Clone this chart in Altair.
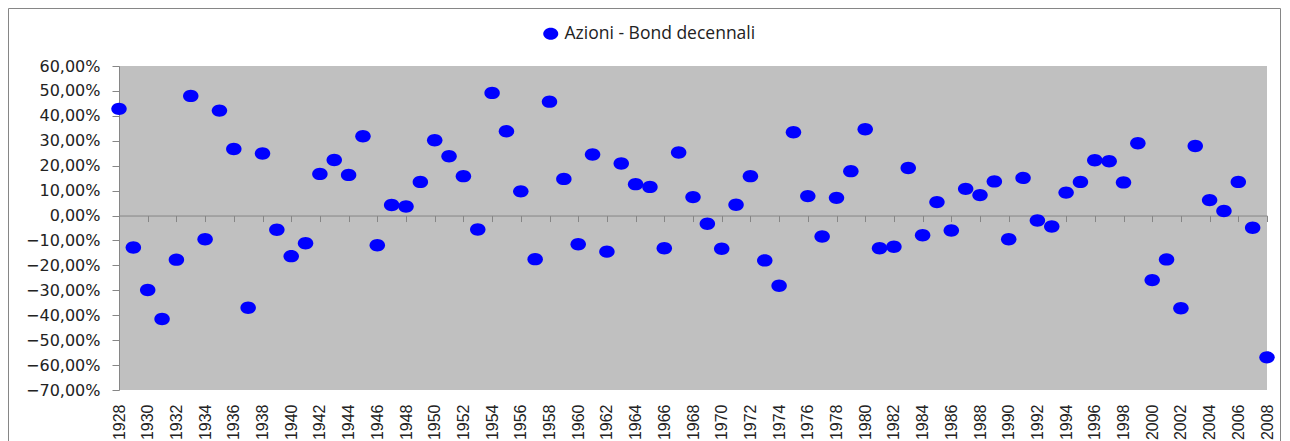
import altair as alt
import pandas as pd

years = list(range(1928, 2009))
values = [
    42.8, -12.8, -29.9, -41.5, -17.7, 48.0, -9.5, 42.1, 26.7, -37.0,
    24.9, -5.7, -16.3, -11.1, 16.7, 22.3, 16.3, 31.8, -11.9, 4.2,
    3.6, 13.5,
    30.2, 23.8, 15.8, -5.6, 49.2, 33.8, 9.7, -17.5, 45.7, 14.7,
    -11.5, 24.5, -14.5, 20.9, 12.6, 11.5, -13.1, 25.3, 7.4, -3.3,
    -13.3, 4.3, 15.8, -18.0, -28.2, 33.4, 7.8, -8.4, 7.1, 17.8,
    34.6, -13.1, -12.5, 19.1, -7.9, 5.4, -6.0, 10.7, 8.2, 13.7,
    -9.5, 15.1, -2.0, -4.4, 9.2, 13.5, 22.2, 21.8, 13.3, 29.0,
    -25.9, -17.6, -37.2, 27.9, 6.2, 1.8, 13.5, -4.9, -56.9,
]
series_name = "Azioni - Bond decennali"
x_ticks = list(range(1928, 2009, 2))
y_ticks = list(range(-70, 61, 10))

df = pd.DataFrame({"year": years, "value": values, "series": series_name})

W, H = 1148, 324
ELLIPSE = ("M -1 0 C -1 -0.4418 -0.5523 -0.8 0 -0.8 C 0.5523 -0.8 1 -0.4418 1 0 "
           "C 1 0.4418 0.5523 0.8 0 0.8 C -0.5523 0.8 -1 0.4418 -1 0 Z")
GRAY = "#868686"

xscale = alt.Scale(domain=[1928, 2008], nice=False, zero=False)
yscale = alt.Scale(domain=[-70, 60], nice=False, zero=False)

y_axis = alt.Axis(
    values=y_ticks, grid=False, title=None,
    labelExpr="replace(format(datum.value, '.2f'), '.', ',') + '%'",
    domainColor=GRAY, tickColor=GRAY, tickSize=7, labelPadding=12,
    labelFont="DejaVu Sans", labelFontSize=16, labelColor="#222222",
    labelFlush=False, labelOverlap=False,
)

frame = alt.Chart(pd.DataFrame({"f": [0]})).mark_rect(
    fillOpacity=0, stroke=GRAY, strokeWidth=1
).encode(
    x=alt.value(-110.5), x2=alt.value(W + 13.5),
    y=alt.value(-57.5), y2=alt.value(H + 80),
)

points = alt.Chart(df).mark_point(
    shape=ELLIPSE, filled=True, size=240, opacity=1
).encode(
    x=alt.X("year:Q", scale=xscale, axis=alt.Axis(
        orient="bottom", values=x_ticks, format="d", labelAngle=-90,
        domain=False, ticks=False, tickSize=0, labelPadding=14, grid=False,
        labelFont="Liberation Sans", labelFontSize=16, labelColor="#222222",
        title=None, labelFlush=False, labelOverlap=False,
    )),
    y=alt.Y("value:Q", scale=yscale, axis=y_axis),
    color=alt.Color("series:N", scale=alt.Scale(range=["#0000FF"]), legend=alt.Legend(
        title=None, orient="none", legendX=423, legendY=-41, padding=0,
        symbolType=ELLIPSE, symbolSize=225, symbolStrokeWidth=0,
        labelFont="Open Sans", labelFontSize=17.5, labelColor="#222222",
        labelOffset=5, labelLimit=500,
    )),
)

zero_axis = alt.Chart(df).mark_point(opacity=0).encode(
    x=alt.X("year:Q", scale=xscale, axis=alt.Axis(
        orient="bottom", values=x_ticks, labels=False, domain=True, ticks=True,
        domainColor=GRAY, tickColor=GRAY, tickSize=6, grid=False, title=None,
        offset=-(H * 70 / 130),
    )),
    y=alt.Y("value:Q", scale=yscale, axis=y_axis),
)

chart = alt.layer(frame, points, zero_axis).resolve_scale(x="independent").properties(
    width=W, height=H,
    padding={"left": 111, "top": 58, "right": 14, "bottom": 51},
    autosize=alt.AutoSizeParams(type="none"),
).configure_view(stroke=None, fill="#C0C0C0")

chart.save("out.html", embed_options={"renderer": "svg", "actions": False})
